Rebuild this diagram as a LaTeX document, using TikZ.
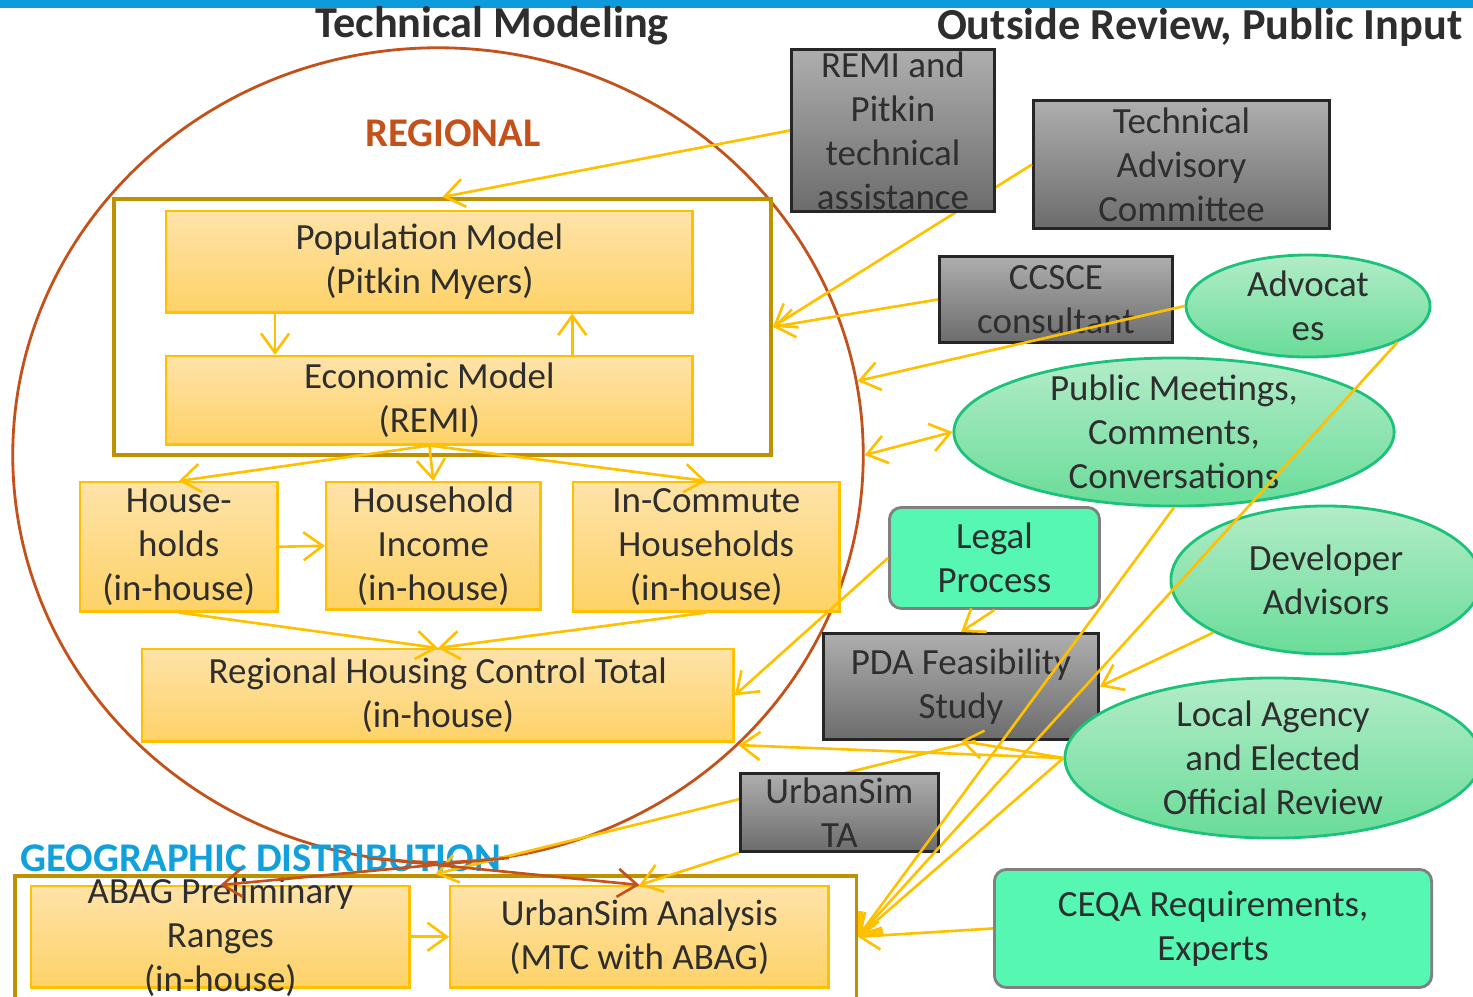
\documentclass[tikz,border=0pt]{standalone}
\usepackage{fontspec}
\setmainfont{Carlito}
\usetikzlibrary{arrows.meta,shapes.geometric}

\definecolor{barblue}{HTML}{0E9BDD}
\definecolor{regbrown}{HTML}{C4511A}
\definecolor{geoblue}{HTML}{12A0DC}
\definecolor{groupgold}{HTML}{BF9000}
\definecolor{linegold}{HTML}{FFC000}
\definecolor{goldtop}{HTML}{FEE3A9}
\definecolor{goldbot}{HTML}{FED267}
\definecolor{graytop}{HTML}{AEAEAE}
\definecolor{graybot}{HTML}{6C6C6C}
\definecolor{greentop}{HTML}{B3ECC8}
\definecolor{greenbot}{HTML}{69DC98}
\definecolor{greenline}{HTML}{1DC27A}
\definecolor{mint}{HTML}{55F7B3}
\definecolor{ink}{HTML}{2E2E2E}

\begin{document}
\begin{tikzpicture}[x=0.01cm,y=-0.01cm,
  font=\fontsize{10.5}{12.5}\selectfont,text=ink,
  >={Straight Barb[length=5.5pt,width=8pt]},
  model/.style={anchor=north west,draw=linegold,line width=0.7pt,top color=goldtop,bottom color=goldbot,align=center,inner sep=-3mm},
  group/.style={anchor=north west,draw=groupgold,line width=1pt,inner sep=0pt},
  review/.style={anchor=north west,draw=black!85,line width=0.8pt,top color=graytop,bottom color=graybot,align=center,inner sep=-3mm},
  forum/.style={ellipse,draw=greenline,line width=0.8pt,top color=greentop,bottom color=greenbot,align=center,inner sep=-5mm},
  legal/.style={anchor=north west,draw=black!50,line width=0.8pt,fill=mint,rounded corners=0.12cm,align=center,inner sep=-3mm},
  flow/.style={draw=linegold,line width=0.75pt,->},
  drop/.style={flow,draw=regbrown},
  heading/.style={font=\fontsize{12.6}{14}\selectfont\bfseries,inner sep=0pt},
  tag/.style={font=\fontsize{11.6}{13}\selectfont\bfseries,inner sep=0pt}]
\useasboundingbox (0,0) rectangle (1473,996);
\clip (0,0) rectangle (1473,996);
\fill[barblue] (0,0) rectangle (1473,8);

\node[heading,anchor=base] (techtitle) at (492,37) {Technical Modeling};
\node[heading,anchor=base east] (reviewtitle) at (1463,39) {Outside Review, Public Input};

% regional half
\node[ellipse,draw=regbrown,line width=0.8pt,minimum width=8.5cm,minimum height=8.14cm,inner sep=0pt] (regional) at (438,455) {};
\node[tag,text=regbrown] (regtitle) at (453,133) {REGIONAL};
\node[group,minimum width=6.57cm,minimum height=2.56cm] (models) at (112,197) {};
\node[model,minimum width=5.26cm,minimum height=1.01cm] (pop) at (165,210) {Population Model\\(Pitkin Myers)};
\node[model,minimum width=5.26cm,minimum height=0.88cm] (econ) at (165,355) {Economic Model\\(REMI)};
\node[model,minimum width=1.97cm,minimum height=1.29cm] (hh) at (79,481) {House-\\holds\\(in-house)};
\node[model,minimum width=2.14cm,minimum height=1.27cm] (income) at (325,481) {Household\\Income\\(in-house)};
\node[model,minimum width=2.66cm,minimum height=1.29cm] (commute) at (572,481) {In-Commute\\Households\\(in-house)};
\node[model,minimum width=5.91cm,minimum height=0.92cm] (control) at (141,648) {Regional Housing Control Total\\(in-house)};

% geographic distribution
\node[tag,text=geoblue,anchor=west] (geotitle) at (20,858) {GEOGRAPHIC DISTRIBUTION};
\node[group,minimum width=8.41cm,minimum height=1.6cm] (geo) at (13,874) {};
\node[model,minimum width=3.78cm,minimum height=1.01cm] (abag) at (30,885) {ABAG Preliminary\\Ranges\\(in-house)};
\node[model,minimum width=3.78cm,minimum height=1.01cm] (urbansim) at (449,885) {UrbanSim Analysis\\(MTC with ABAG)};

% outside review
\node[review,minimum width=2.96cm,minimum height=1.28cm] (tac) at (1032,99) {Technical\\Advisory\\Committee};
\draw[flow] (tac.west) -- (models.east);
\node[review,minimum width=2.03cm,minimum height=1.62cm] (remi) at (790,48) {REMI and\\Pitkin\\technical\\assistance};
\node[review,minimum width=2.33cm,minimum height=0.86cm] (ccsce) at (938,255) {CCSCE\\consultant};
\node[forum,minimum width=2.44cm,minimum height=1.02cm] (advocates) at (1308,306) {Advocat\\es};
\node[forum,minimum width=4.40cm,minimum height=1.48cm] (public) at (1174,432) {Public Meetings,\\Comments,\\Conversations};
\node[legal,minimum width=2.10cm,minimum height=1.01cm] (legalproc) at (888,506) {Legal\\Process};
\node[forum,minimum width=3.10cm,minimum height=1.48cm] (developer) at (1326,580) {Developer\\Advisors};
\node[review,minimum width=2.75cm,minimum height=1.06cm] (pda) at (822,632) {PDA Feasibility\\Study};
\node[forum,minimum width=4.16cm,minimum height=1.60cm] (local) at (1273,758) {Local Agency\\and Elected\\Official Review};
\draw[flow] (pda.-75) -- (geo.north);
\node[review,minimum width=1.98cm,minimum height=0.78cm] (ta) at (739,772) {UrbanSim\\TA};
\node[legal,minimum width=4.37cm,minimum height=1.18cm] (ceqa) at (993,868) {CEQA Requirements,\\Experts};

% model chain
\draw[flow] ([xshift=1.1cm]pop.south west) -- ([xshift=1.1cm]econ.north west);
\draw[flow] ([xshift=4.07cm]econ.north west) -- ([xshift=4.07cm]pop.south west);
\draw[flow] (econ.south) -- (hh.north);
\draw[flow] (econ.south) -- (income.north);
\draw[flow] (econ.south) -- (commute.north);
\draw[flow] (hh.east) -- (income.west);
\draw[flow] (hh.south) -- (control.north);
\draw[flow] (commute.south) -- (control.north);
\draw[flow] (abag.east) -- (urbansim.west);
\draw[drop] (regional.-80) -- (abag.north);
\draw[drop] (regional.-100) -- (urbansim.north);

% review and input
\draw[flow] (remi.west) -- (models.north);
\draw[flow] (ccsce.west) -- (models.east);
\draw[flow] (advocates.west) -- (regional.10);
\draw[flow,<->] (public.west) -- (regional.east);
\draw[flow] (advocates.-22.5) -- (urbansim.east -| geo.east);
\draw[flow] (public.south) -- (urbansim.east -| geo.east);
\draw[flow] (local.west) -- (urbansim.east -| geo.east);
\draw[flow] (local.west) -- (regional.-44);
\draw[flow] (local.west) -- (pda.south);
\draw[flow] (ta.south west) -- (urbansim.north);
\draw[flow] (legalproc.west) -- (control.east);
\draw[flow] (legalproc.south) -- (pda.north);
\draw[flow] (developer.205.5) -- (pda.east);
\draw[flow] (ceqa.west) -- (urbansim.east -| geo.east);
\end{tikzpicture}
\end{document}
